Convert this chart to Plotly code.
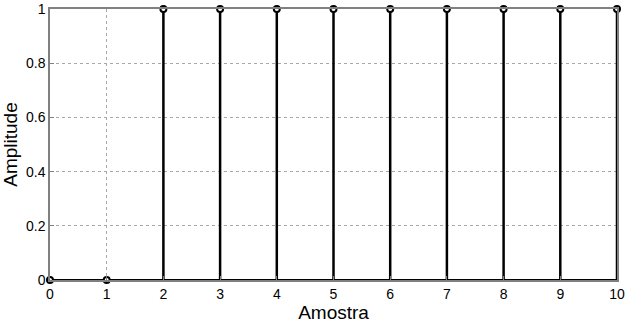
import plotly.graph_objects as go

amostras = [0, 1, 2, 3, 4, 5, 6, 7, 8, 9, 10]
amplitude = [0, 0, 1, 1, 1, 1, 1, 1, 1, 1, 1]
x_ticks = [0, 1, 2, 3, 4, 5, 6, 7, 8, 9, 10]
y_ticks = [0, 0.2, 0.4, 0.6, 0.8, 1]
y_tick_labels = ["0", "0.2", "0.4", "0.6", "0.8", "1"]

sx, sy = [], []
for n, a in zip(amostras, amplitude):
    sx += [n, n, None]
    sy += [0, a, None]

fig = go.Figure()
fig.add_trace(go.Scatter(x=sx, y=sy, mode="lines",
                         line=dict(color="black", width=2.5),
                         hoverinfo="skip", showlegend=False))
fig.add_trace(go.Scatter(x=[amostras[0], amostras[-1]], y=[0, 0], mode="lines",
                         line=dict(color="black", width=2),
                         hoverinfo="skip", showlegend=False))
fig.add_trace(go.Scatter(x=amostras, y=amplitude, mode="markers", cliponaxis=False,
                         marker=dict(symbol="circle", size=6, color="white",
                                     line=dict(color="black", width=2)),
                         showlegend=False))

axis_common = dict(showline=True, mirror=True, linecolor="#808080", linewidth=1.5,
                   ticks="inside", ticklen=4, tickcolor="#808080",
                   showgrid=True, gridcolor="#a8a8a8", griddash="dot", gridwidth=1,
                   zeroline=False, automargin=False,
                   tickfont=dict(family="Liberation Sans, Arial, sans-serif", size=14, color="black"))

fig.update_xaxes(range=[0, 10], tickvals=x_ticks, **axis_common,
                 title=dict(text="Amostra", standoff=2,
                            font=dict(family="Liberation Sans, Arial, sans-serif", size=19, color="black")))
fig.update_yaxes(range=[0, 1], tickvals=y_ticks, ticktext=y_tick_labels, **axis_common,
                 title=dict(text="Amplitude", standoff=6,
                            font=dict(family="Liberation Sans, Arial, sans-serif", size=19, color="black")))

fig.update_layout(width=632, height=324, margin=dict(l=50, r=15, t=9, b=44),
                  plot_bgcolor="white", paper_bgcolor="white")
fig.write_html("out.html")
